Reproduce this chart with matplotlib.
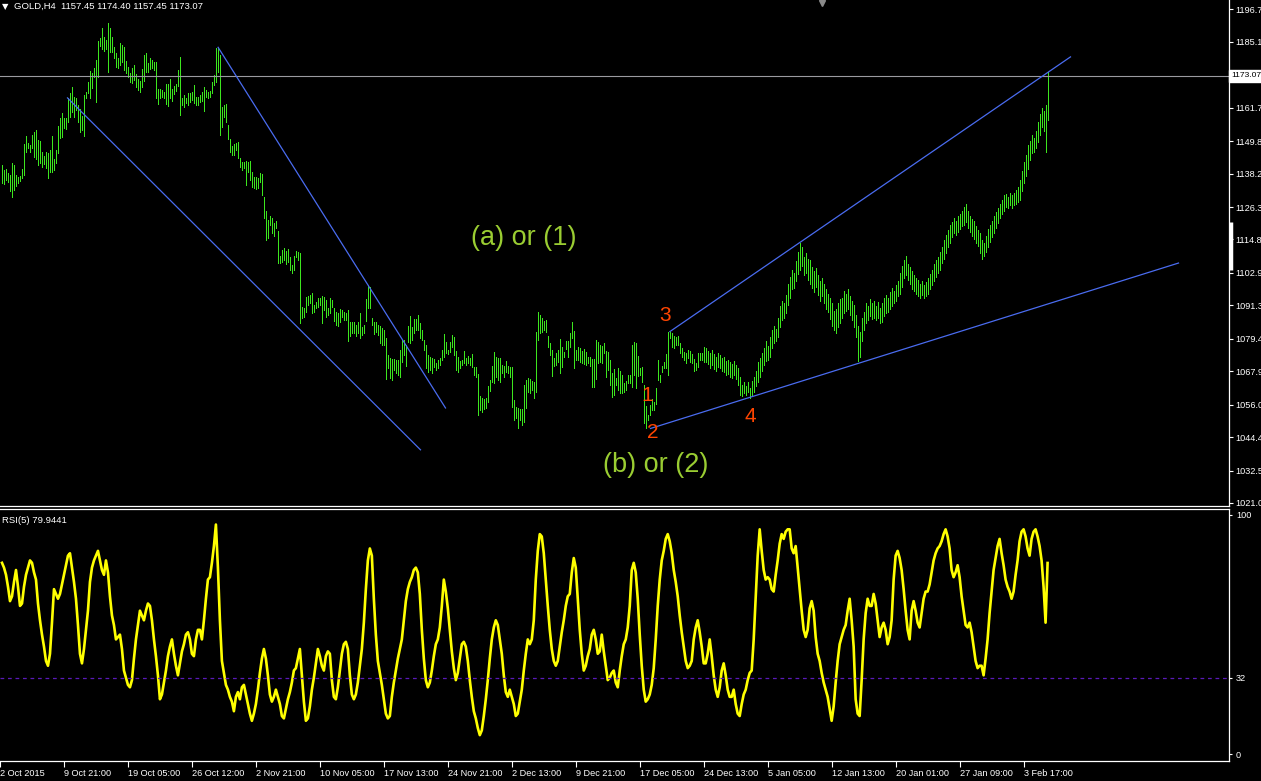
import matplotlib
matplotlib.use('Agg')
import matplotlib.pyplot as plt
import numpy as np

# ---------------- data ----------------
highs = [
1141.3,1139.5,1139.9,1138.6,1137.7,1141.9,1141.3,1137.7,1137.1,1137.4,
1139.9,1148.8,1151.6,1149.0,1148.4,1152.0,1153.2,1153.8,1150.2,1149.9,
1146.0,1144.6,1146.0,1145.4,1146.6,1151.6,1143.4,1146.6,1155.2,1157.9,
1159.7,1158.1,1158.1,1165.0,1166.8,1169.2,1165.6,1165.3,1162.7,1161.1,
1158.7,1166.2,1167.4,1171.0,1174.8,1173.9,1175.9,1178.7,1185.4,1186.6,
1190.0,1187.0,1185.8,1191.7,1190.0,1187.0,1183.2,1181.3,1179.3,1184.6,
1184.0,1183.2,1178.4,1176.1,1173.9,1175.9,1176.9,1173.6,1171.9,1171.2,
1175.5,1180.5,1181.1,1177.5,1179.3,1178.7,1178.1,1178.1,1168.4,1168.4,
1168.0,1167.2,1170.0,1170.0,1171.8,1168.4,1169.4,1170.0,1175.1,1179.9,
1165.3,1166.2,1165.0,1166.8,1166.8,1167.4,1169.8,1165.4,1165.6,1166.2,
1167.4,1169.2,1168.0,1167.4,1167.8,1171.0,1173.4,1182.8,1182.8,1180.5,
1162.1,1162.7,1163.0,1155.5,1150.4,1148.1,1148.8,1149.0,1149.6,1143.7,
1142.5,1142.5,1142.8,1142.5,1142.8,1138.9,1137.1,1137.1,1136.6,1138.3,
1138.1,1130.0,1125.0,1121.7,1123.2,1122.3,1120.8,1121.4,1117.9,1108.9,
1111.0,1111.6,1110.8,1111.3,1108.7,1105.7,1108.9,1110.7,1110.5,1109.9,
1090.9,1090.3,1094.2,1094.7,1095.0,1095.6,1091.5,1092.6,1094.1,1093.8,
1094.7,1094.4,1093.2,1090.3,1093.8,1093.2,1090.3,1089.1,1088.5,1089.9,
1089.7,1089.1,1088.5,1089.7,1085.5,
1085.5,1085.5,1084.4,1085.5,1088.7,1083.8,1084.4,1093.6,1098.6,1098.0,
1087.0,1085.5,1085.5,1084.4,1084.0,1083.2,1082.6,1079.6,1073.7,1072.5,
1072.2,1072.2,1071.9,1071.9,1075.4,1079.0,1079.0,1077.2,1084.1,1087.5,
1083.8,1086.4,1086.4,1087.9,1085.2,1082.6,1079.0,1077.2,1073.7,1073.1,
1072.5,1072.1,1070.7,1071.9,1072.5,1075.4,1081.1,1078.4,1075.4,1078.4,
1080.8,1080.2,1075.1,1073.1,1071.6,1071.9,1075.1,1072.5,1073.3,1072.7,
1074.0,1069.3,1069.3,1066.8,1059.1,1058.2,1057.9,1058.2,1062.6,1064.8,
1069.8,1074.9,1073.1,1072.5,1072.5,1070.1,1069.8,1071.6,1069.8,1069.5,
1069.3,1057.6,1055.3,1054.7,1054.3,1054.3,1063.0,
1064.8,1065.4,1065.0,1064.5,1064.2,1082.0,1089.1,1087.9,1086.7,1085.9,
1086.1,1080.4,1077.8,1075.5,1072.5,1074.3,1075.5,1079.3,1076.6,1074.9,
1078.8,1078.8,1081.6,1085.5,1082.3,1075.5,1076.6,1076.0,1075.2,1075.7,
1074.9,1073.1,1072.8,1072.1,1072.1,1079.0,1078.4,1077.2,1076.9,1077.8,
1075.2,1074.9,1071.9,1067.4,1068.6,1065.4,1068.9,1068.1,1066.5,1063.6,
1064.5,1066.5,1066.5,1077.2,1078.4,1077.8,1073.3,1068.9,1069.5,1063.0,
1055.5,1052.3,1055.9,1057.9,1057.0,1061.8,1071.9,1066.5,1069.8,1071.3,
1074.0,1082.0,1082.0,1081.4,1080.4,1080.0,1080.4,1078.1,1076.0,1074.9,
1074.5,1075.5,1075.2,1074.0,1072.1,1070.7,1074.3,1074.5,1074.5,1076.4,
1076.0,1075.0,1074.5,1075.5,1074.0,1073.0,1074.5,1073.5,1072.5,1073.0,
1071.5,1072.0,1071.0,1070.5,1071.5,1070.0,1069.0,1066.0,1063.0,1064.0,
1062.5,1064.0,1062.0,1064.5,1066.0,1068.0,1071.0,1072.5,1074.5,1076.0,
1078.5,1077.0,1080.0,1082.5,1084.0,1083.0,1087.0,1091.0,1093.0,1092.0,
1095.0,1099.0,1101.5,1104.0,1103.0,1107.0,1110.5,1113.5,1112.0,1108.5,
1110.0,1108.0,1107.5,1105.0,1103.5,1104.5,1102.0,1100.0,1101.0,1099.0,
1097.0,1095.5,1094.0,1092.0,1089.5,1090.0,1092.0,1093.5,1094.0,1096.5,
1095.5,1097.0,1094.5,1093.0,1091.5,1088.0,1084.0,1082.0,1087.0,1089.0,
1092.0,1091.0,1093.5,1092.0,1093.0,1091.0,1092.5,1090.5,1092.0,1094.0,
1095.0,1094.0,1096.0,1097.5,1096.5,1098.5,1100.0,1103.0,1105.5,1107.5,
1109.0,1106.0,1105.0,1103.5,1102.0,1101.0,1100.5,1099.0,1100.0,1098.5,
1099.5,1101.0,1102.5,1104.0,1106.0,1107.5,1108.5,1110.5,1112.0,1114.5,
1116.5,1118.0,1120.0,1121.0,1122.5,1121.5,1123.0,1124.0,1125.0,1126.5,
1127.5,1125.0,1123.0,1122.0,1121.5,1119.5,1118.0,1117.0,1114.5,1113.5,
1116.0,1118.5,1120.0,1121.5,1123.0,1124.5,1126.0,1127.5,1129.0,1130.5,
1131.0,1130.0,1131.5,1130.5,1131.5,1132.5,1133.5,1136.0,1139.0,1142.5,
1145.0,1148.5,1150.0,1152.0,1151.0,1153.5,1156.5,1159.5,1161.5,1160.5,
1162.5,1174.4,
]
lows = [
1134.8,1134.4,1135.9,1135.4,1132.0,1130.0,1132.4,1133.9,1134.8,1135.7,
1136.5,1137.7,1145.8,1147.5,1146.0,1147.2,1144.3,1143.4,1141.3,1141.9,
1140.7,1141.5,1140.1,1136.5,1138.9,1138.9,1139.5,1141.9,1145.4,1150.8,
1151.4,1154.6,1154.3,1156.7,1158.5,1160.3,1158.5,1160.9,1156.7,1153.2,
1153.8,1151.7,1165.0,1166.8,1165.0,1168.8,1172.7,1163.6,1172.7,1183.7,
1182.5,1181.9,1182.5,1174.3,1181.6,1181.6,1179.3,1176.3,1175.7,1176.9,
1177.8,1175.1,1173.9,1172.7,1171.0,1170.4,1171.6,1169.2,1168.0,1167.4,
1169.2,1171.3,1174.5,1174.5,1175.4,1175.7,1175.1,1165.0,1163.2,1165.0,
1165.6,1165.0,1162.9,1162.4,1165.0,1164.1,1166.6,1167.6,1169.4,1159.1,
1162.7,1162.1,1163.3,1162.7,1163.8,1164.4,1163.5,1162.7,1162.7,1163.8,
1164.2,1160.6,1165.4,1165.0,1165.6,1166.8,1169.8,1171.0,1174.5,1152.0,
1155.0,1158.5,1156.7,1150.4,1146.0,1144.9,1144.9,1146.6,1143.7,1140.7,
1139.5,1140.1,1134.2,1138.9,1136.0,1133.6,1133.0,1132.6,1133.0,1135.4,
1130.6,1122.3,1114.6,1115.2,1119.9,1117.0,1116.0,1118.8,1106.3,1106.5,
1106.9,1107.5,1106.1,1106.9,1103.9,1103.0,1103.9,1108.7,1107.5,1085.2,
1086.7,1087.3,1089.1,1091.5,1092.1,1088.5,1089.1,1090.3,1090.9,1091.5,
1084.9,1089.7,1087.3,1087.9,1088.5,1090.9,1085.8,1084.3,1084.0,1085.5,
1087.3,1086.1,1086.1,1078.5,1080.4,
1081.4,1081.6,1080.4,1081.4,1079.6,1080.8,1081.4,1085.9,1090.3,1090.3,
1084.4,1081.2,1082.0,1080.8,1077.8,1077.2,1077.2,1065.1,1068.9,1065.4,
1064.8,1068.3,1067.2,1066.5,1066.0,1071.3,1073.7,1069.8,1078.2,1077.8,
1079.0,1081.4,1082.6,1082.6,1079.6,1079.0,1075.4,1068.9,1067.7,1068.3,
1067.2,1069.3,1068.3,1068.9,1070.1,1071.9,1072.8,1074.3,1074.0,1074.9,
1076.6,1073.7,1068.3,1067.7,1068.9,1070.0,1070.7,1070.1,1070.7,1070.1,
1069.3,1066.5,1066.0,1052.3,1054.1,1053.5,1054.3,1054.7,1057.1,1061.0,
1064.2,1063.6,1066.0,1064.8,1064.2,1067.2,1066.0,1067.7,1067.4,1066.0,
1055.3,1050.5,1051.1,1047.6,1050.5,1048.8,1049.9,
1054.7,1060.6,1060.0,1061.2,1058.2,1060.6,1079.0,1081.4,1082.0,1082.6,
1082.0,1076.6,1073.7,1066.2,1069.8,1070.1,1071.3,1067.4,1069.5,1073.1,
1075.7,1073.1,1076.6,1079.6,1068.9,1071.9,1071.9,1071.3,1070.9,1070.5,
1070.1,1070.9,1069.8,1062.2,1062.2,1065.0,1070.7,1071.3,1070.7,1074.3,
1065.7,1068.3,1063.0,1058.6,1059.4,1063.0,1061.2,1060.0,1060.0,1060.6,
1061.2,1063.6,1063.6,1062.4,1066.5,1061.8,1066.2,1066.5,1064.2,1049.3,
1047.6,1050.5,1052.3,1054.1,1054.1,1056.2,1064.8,1064.2,1067.7,1068.9,
1068.9,1066.5,1079.6,1076.4,1076.0,1077.2,1077.2,1074.3,1073.1,1071.9,
1070.7,1072.5,1071.3,1070.9,1068.1,1068.3,1069.5,1071.9,1071.9,1071.3,
1071.0,1070.5,1069.0,1070.0,1068.5,1068.0,1069.5,1069.0,1068.0,1067.5,
1066.5,1067.0,1066.0,1065.5,1066.5,1065.0,1063.0,1059.5,1059.0,1060.0,
1059.5,1060.5,1058.3,1059.0,1060.5,1062.5,1064.0,1066.0,1068.0,1070.0,
1071.5,1072.0,1073.0,1076.0,1078.0,1078.5,1080.0,1083.5,1086.0,1087.0,
1088.5,1091.5,1094.0,1097.0,1097.5,1100.0,1102.5,1104.0,1105.5,1102.0,
1103.0,1100.5,1099.0,1097.5,1096.0,1098.0,1095.0,1093.0,1094.5,1092.0,
1090.0,1089.0,1086.5,1084.0,1082.5,1081.5,1083.5,1085.0,1087.0,1088.5,
1089.5,1090.0,1088.0,1086.0,1083.5,1080.0,1071.5,1073.0,1078.5,1082.5,
1085.0,1086.0,1087.5,1086.5,1087.0,1086.0,1087.0,1085.0,1085.5,1087.5,
1088.5,1089.0,1090.0,1091.0,1092.0,1093.0,1094.5,1095.5,1098.0,1101.0,
1102.0,1100.5,1099.0,1097.0,1096.5,1095.5,1094.5,1094.0,1095.0,1094.0,
1094.5,1095.5,1097.0,1098.5,1100.0,1101.5,1103.0,1104.0,1106.5,1108.0,
1110.0,1112.0,1113.5,1115.5,1117.0,1116.5,1117.5,1118.5,1119.5,1120.0,
1121.0,1119.0,1117.5,1116.0,1115.0,1113.5,1112.5,1110.0,1108.0,1109.0,
1110.5,1112.0,1114.0,1115.5,1117.0,1119.0,1120.5,1122.5,1124.0,1125.0,
1126.5,1126.0,1127.0,1126.0,1127.0,1127.5,1128.0,1129.0,1132.0,1135.0,
1137.5,1140.0,1143.0,1145.5,1146.0,1147.5,1149.5,1152.0,1155.0,1153.5,
1146.0,1157.45,
]
rsi = [
80,78,75,70,64,66,72,77,70,62,63,70,75,78,81,80,76,73,63,56,
50,45,39,37,42,55,69,67,65,67,71,75,79,83,84,78,72,65,54,42,
38,44,52,60,72,78,81,83,85,81,77,75,81,76,66,58,54,48,49,50,
44,35,32,29,28,31,40,48,54,60,58,56,60,63,62,56,48,41,33,23,
25,30,35,41,45,48,42,37,33,38,43,46,50,51,48,42,41,48,52,52,
48,56,65,73,74,80,87,96,78,56,39,34,29,27,24,22,18,24,26,23,
28,29,25,21,17,14,17,21,27,34,40,44,40,33,25,22,24,27,24,21,
16,15,19,23,26,30,35,36,40,44,33,22,14,15,20,27,32,38,44,41,
37,35,41,43,42,31,24,23,28,35,42,46,47,44,33,25,23,25,30,37,
44,55,69,81,86,83,65,50,39,34,29,23,17,15,16,24,30,35,40,44,
48,56,64,69,72,74,77,78,76,67,52,40,31,28,30,35,41,46,48,53,
62,73,68,61,52,43,36,31,34,40,46,47,45,39,31,24,18,15,11,8,
10,16,23,31,40,48,53,56,54,48,42,33,26,24,27,24,21,16,17,22,
27,35,42,48,46,48,56,73,85,92,91,84,73,62,52,44,39,37,39,45,
51,56,62,66,67,76,82,78,65,52,42,35,37,41,44,50,52,48,42,43,
50,43,37,31,32,34,35,30,28,35,41,46,48,53,62,77,80,76,65,50,
37,27,22,23,25,29,36,48,62,73,81,85,90,92,89,84,77,72,66,58,
51,45,39,36,37,39,48,53,56,51,45,38,38,42,48,41,33,27,24,28,
35,38,33,27,24,24,27,21,17,16,21,25,27,31,34,35,48,66,83,94,
85,77,73,74,73,69,68,75,81,88,92,90,93,94,94,86,84,87,78,69,
60,52,49,52,61,64,60,49,42,39,34,30,27,24,19,14,20,30,39,46,
49,52,54,60,65,56,45,23,17,16,31,48,59,65,62,62,67,63,56,49,
53,55,52,46,49,56,73,83,85,82,77,69,60,52,48,60,64,60,55,53,
59,65,68,68,71,76,81,84,86,87,89,92,94,91,86,77,74,76,79,74,
66,60,54,53,55,51,45,39,36,37,37,33,40,48,59,68,77,82,87,90,
84,79,73,70,68,65,68,75,81,89,93,94,91,86,83,90,93,94,91,87,
81,70,55,79.94,
]

price_ticks = [1196.7, 1185.1, 1161.7, 1149.8, 1138.2, 1126.3, 1114.8, 1102.9,
               1091.3, 1079.4, 1067.9, 1056.0, 1044.4, 1032.5, 1021.0]
price_tick_labels = ['1196.7', '1185.1', '1161.7', '1149.8', '1138.2', '1126.3', '1114.8', '1102.9',
                     '1091.3', '1079.4', '1067.9', '1056.0', '1044.4', '1032.5', '1021.0']
time_tick_bars = [-1, 31, 63, 95, 127, 159, 191, 223, 255, 287, 319, 351, 383, 415, 447, 479, 511]
time_tick_labels = ['2 Oct 2015', '9 Oct 21:00', '19 Oct 05:00', '26 Oct 12:00', '2 Nov 21:00',
                    '10 Nov 05:00', '17 Nov 13:00', '24 Nov 21:00', '2 Dec 13:00', '9 Dec 21:00',
                    '17 Dec 05:00', '24 Dec 13:00', '5 Jan 05:00', '12 Jan 13:00', '20 Jan 01:00',
                    '27 Jan 09:00', '3 Feb 17:00']
current_price = 1173.07
rsi_level = 32
# trend lines: (bar, price) pairs
trend_lines = [
    ((33.0, 1165.2), (209.5, 1039.9)),
    ((108.3, 1183.2), (222.0, 1054.8)),
    ((334.2, 1082.0), (534.5, 1179.8)),
    ((324.5, 1047.5), (588.5, 1106.4)),
]
wave_labels = [('1', 323.0, 1059.4), ('2', 325.5, 1045.9), ('3', 332.0, 1087.9), ('4', 374.5, 1051.9)]
big_labels = [('(a) or (1)', 261.0, 1115.3), ('(b) or (2)', 327.0, 1034.5)]

# ---------------- style ----------------
W, H = 1261, 781
BAR_C = '#3ce61e'
LINE_C = '#4a6cf0'
WHITE = '#ffffff'
FONT = 'Liberation Sans'
TICK_FS = 6.6

fig = plt.figure(figsize=(W / 100, H / 100), dpi=100, facecolor='black')

def px_axes(x0, y0, x1, y1):
    return fig.add_axes([x0 / W, 1 - y1 / H, (x1 - x0) / W, (y1 - y0) / H])

ax = px_axes(0, 0, 1229, 506)
ax2 = px_axes(0, 508.5, 1229, 761)

for a in (ax, ax2):
    a.set_facecolor('black')
    for s in a.spines.values():
        s.set_color(WHITE)
        s.set_linewidth(0.9)
    a.spines['left'].set_visible(False)
ax.spines['top'].set_visible(False)

x = np.arange(len(highs))
ax.vlines(x, lows, highs, color=BAR_C, linewidth=0.72, antialiased=False)
ax.set_xlim(-0.75, 613.75)
ax.set_ylim(1019.9, 1200.05)

ax.axhline(current_price, color='#9a9aa0', linewidth=0.8)
for (x0, y0), (x1, y1) in trend_lines:
    ax.plot([x0, x1], [y0, y1], color=LINE_C, linewidth=0.9)

for t, bx, py in wave_labels:
    ax.text(bx, py, t, color='#ff4500', fontsize=15, family=FONT, ha='center', va='center')
for t, bx, py in big_labels:
    ax.text(bx, py, t, color='#9acd32', fontsize=19.5, family=FONT, ha='center', va='center')

ax.set_xticks([])
ax.yaxis.tick_right()
ax.set_yticks(price_ticks)
ax.set_yticklabels(price_tick_labels)
ax.tick_params(axis='y', colors=WHITE, length=3, width=0.8, labelsize=TICK_FS, pad=1.5)
for lbl in ax.get_yticklabels():
    lbl.set_family(FONT)

ax.text(1.002, current_price, '1173.07', transform=ax.get_yaxis_transform(), color='black',
        fontsize=6.1, family=FONT, va='center', ha='left',
        bbox=dict(boxstyle='square,pad=0.3', fc='white', ec='white'), clip_on=False)

# MT4 decorations
ax.plot([1.0015, 1.0015], [0.466, 0.561], transform=ax.transAxes, color=WHITE,
        linewidth=2.5, clip_on=False, solid_capstyle='butt')
ax.plot([822 / 1229], [0.995], transform=ax.transAxes, marker='v', color='#8a8a8a',
        markersize=5, clip_on=False)

fig.text(2 / W, 1 - 6.5 / H, '\u25bc', color=WHITE, fontsize=6, va='center', ha='left', family='DejaVu Sans')
fig.text(14 / W, 1 - 6.5 / H, 'GOLD,H4  1157.45 1174.40 1157.45 1173.07', color=WHITE,
         fontsize=6.8, va='center', ha='left', family=FONT)

# RSI pane
ax2.plot(np.arange(len(rsi)), rsi, color='#ffff00', linewidth=1.9)
ax2.axhline(rsi_level, color='#5a1ab8', linewidth=0.9, linestyle=(0, (3, 3)))
ax2.set_xlim(-0.75, 613.75)
ax2.set_ylim(-2.8, 102.7)
ax2.yaxis.tick_right()
ax2.set_yticks([0, 32, 100])
ax2.set_yticklabels(['0', '32', '100'])
ax2.tick_params(axis='y', colors=WHITE, length=2, width=0.8, labelsize=TICK_FS, pad=3)
ax2.set_xticks(time_tick_bars)
ax2.set_xticklabels(time_tick_labels)
ax2.tick_params(axis='x', colors=WHITE, length=4, width=0.8, labelsize=TICK_FS, pad=1.5)
for lbl in ax2.get_xticklabels():
    lbl.set_ha('left')
    lbl.set_family(FONT)
for lbl in ax2.get_yticklabels():
    lbl.set_family(FONT)
ax2.text(2 / 1229, 0.97, 'RSI(5) 79.9441', transform=ax2.transAxes, color=WHITE,
         fontsize=6.8, family=FONT, va='top', ha='left')

fig.savefig('out.png', dpi=100, facecolor='black')
